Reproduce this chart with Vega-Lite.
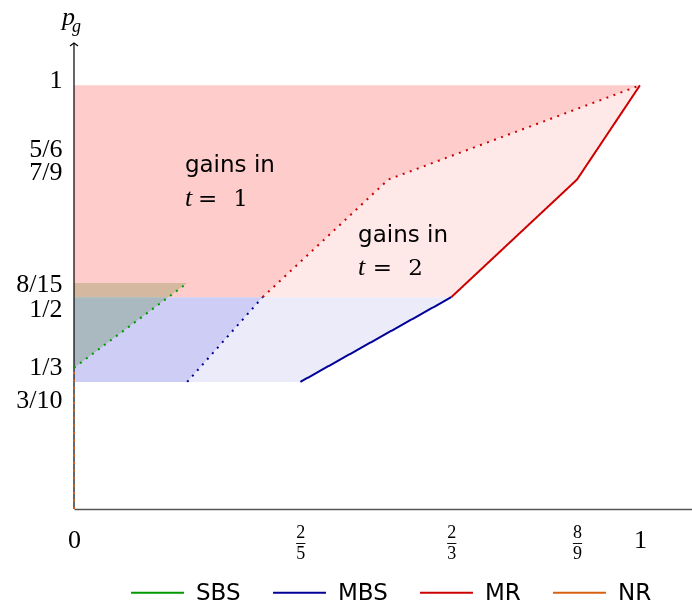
{
  "$schema": "https://vega.github.io/schema/vega-lite/v6.json",
  "width": 618,
  "height": 466,
  "autosize": "none",
  "padding": {"left": 74, "top": 43, "right": 0, "bottom": 95},
  "config": {"view": {"stroke": null}},
  "datasets": {
    "regions": [
      {"region": "R1", "p": 0.5, "lo": 0, "hi": 0.3333333},
      {"region": "R1", "p": 0.7777778, "lo": 0, "hi": 0.5555556},
      {"region": "R1", "p": 1, "lo": 0, "hi": 1},
      {"region": "R2", "p": 0.5, "lo": 0.3333333, "hi": 0.6666667},
      {"region": "R2", "p": 0.7777778, "lo": 0.5555556, "hi": 0.8888889},
      {"region": "R2", "p": 1, "lo": 1, "hi": 1},
      {"region": "B1", "p": 0.3, "lo": 0, "hi": 0.2},
      {"region": "B1", "p": 0.5, "lo": 0, "hi": 0.3333333},
      {"region": "B2", "p": 0.3, "lo": 0.2, "hi": 0.4},
      {"region": "B2", "p": 0.5, "lo": 0.3333333, "hi": 0.6666667},
      {"region": "G", "p": 0.3333333, "lo": 0, "hi": 0},
      {"region": "G", "p": 0.5333333, "lo": 0, "hi": 0.2}
    ],
    "bounds": [
      {"series": "SBS", "boundary": "t=1", "x": 0, "y": 0.3333333},
      {"series": "SBS", "boundary": "t=1", "x": 0.2, "y": 0.5333333},
      {"series": "MBS", "boundary": "t=1", "x": 0.2, "y": 0.3},
      {"series": "MBS", "boundary": "t=1", "x": 0.3333333, "y": 0.5},
      {"series": "MBS", "boundary": "t=2", "x": 0.4, "y": 0.3},
      {"series": "MBS", "boundary": "t=2", "x": 0.6666667, "y": 0.5},
      {"series": "MR", "boundary": "t=1", "x": 0.3333333, "y": 0.5},
      {"series": "MR", "boundary": "t=1", "x": 0.5555556, "y": 0.7777778},
      {"series": "MR", "boundary": "t=1", "x": 1, "y": 1},
      {"series": "MR", "boundary": "t=2", "x": 0.6666667, "y": 0.5},
      {"series": "MR", "boundary": "t=2", "x": 0.8888889, "y": 0.7777778},
      {"series": "MR", "boundary": "t=2", "x": 1, "y": 1},
      {"series": "NR", "boundary": "t=1", "x": 0, "y": 0},
      {"series": "NR", "boundary": "t=1", "x": 0, "y": 0.3333333}
    ],
    "notes": [
      {"part": "caption", "x": 0.196, "y": 0.796, "text": "gains in"},
      {"part": "var", "x": 0.196, "y": 0.716, "text": "t"},
      {"part": "rel", "x": 0.219, "y": 0.716, "text": "=\u2002\u20091"},
      {"part": "caption", "x": 0.502, "y": 0.631, "text": "gains in"},
      {"part": "var", "x": 0.502, "y": 0.552, "text": "t"},
      {"part": "rel", "x": 0.528, "y": 0.552, "text": "=\u2002\u20092"},
      {"part": "title", "x": -0.021, "y": 1.143, "text": "p"},
      {"part": "sub", "x": -0.0035, "y": 1.126, "text": "g"}
    ]
  },
  "layer": [
    {
      "data": {"name": "regions"},
      "transform": [{"filter": "datum.region != 'G'"}],
      "mark": {"type": "area", "orient": "horizontal"},
      "encoding": {
        "y": {"field": "p", "type": "quantitative", "title": null,
              "scale": {"domain": [0, 1.1], "nice": false, "zero": false},
              "axis": {"values": [1, 0.8333333, 0.7777778, 0.5333333, 0.5, 0.3333333, 0.3],
                       "domain": false, "ticks": false, "tickSize": 0, "grid": false,
                       "labelExpr": "datum.value > 0.99 ? '1' : datum.value > 0.8 ? '5/6' : datum.value > 0.7 ? '7/9' : datum.value > 0.52 ? '8/15' : datum.value > 0.4 ? '1/2' : datum.value > 0.32 ? '1/3' : '3/10'",
                       "labelOffset": {"expr": "datum.value > 0.99 ? -6 : datum.value > 0.8 ? -7 : datum.value > 0.7 ? -8 : datum.value > 0.52 ? 0 : datum.value > 0.4 ? 11 : datum.value > 0.32 ? -1 : 18"},
                       "labelFont": "Liberation Serif", "labelFontSize": 26, "labelColor": "black",
                       "labelPadding": 12, "labelBaseline": "middle", "labelOverlap": false, "labelFlush": false, "labelBound": false}},
        "x": {"field": "lo", "type": "quantitative", "title": null,
              "scale": {"domain": [0, 1.092], "nice": false, "zero": false},
              "axis": {"values": [0, 0.4, 0.6666667, 0.8888889, 1],
                       "domain": true, "domainColor": "#555555", "domainWidth": 1.6,
                       "ticks": false, "tickSize": 0, "grid": false,
                       "labelExpr": "datum.value < 0.01 ? '0' : datum.value > 0.99 ? '1' : datum.value > 0.8 ? ['8','\u2013','9'] : datum.value > 0.6 ? ['2','\u2013','3'] : ['2','\u2013','5']",
                       "labelFontSize": {"expr": "(datum.value < 0.01 || datum.value > 0.99) ? 26 : 18"},
                       "labelPadding": {"expr": "(datum.value < 0.01 || datum.value > 0.99) ? 30 : 23"},
                       "labelFont": "Liberation Serif", "labelColor": "black", "labelLineHeight": 10.5,
                       "labelBaseline": "middle", "labelOverlap": false, "labelFlush": false, "labelBound": false}},
        "x2": {"field": "hi"},
        "fill": {"field": "region", "type": "nominal", "legend": null,
                 "scale": {"domain": ["R1", "R2", "B1", "B2"], "range": ["#FFCCCC", "#FFE8E8", "#CDCDF5", "#EBEBFA"]}}
      }
    },
    {
      "data": {"name": "regions"},
      "transform": [{"filter": "datum.region == 'G'"}],
      "mark": {"type": "area", "orient": "horizontal", "color": "#D4E7C8", "blend": "multiply"},
      "encoding": {
        "y": {"field": "p", "type": "quantitative", "title": null},
        "x": {"field": "lo", "type": "quantitative", "title": null},
        "x2": {"field": "hi"}
      }
    },
    {
      "data": {"values": [{}]},
      "mark": {"type": "rule", "color": "black", "strokeWidth": 1.2},
      "encoding": {
        "x": {"datum": 0, "type": "quantitative"},
        "y": {"datum": 0, "type": "quantitative"},
        "y2": {"datum": 1.1}
      }
    },
    {
      "data": {"values": [{}]},
      "mark": {"type": "point", "shape": "M-1,0.75L0,0L1,0.75", "filled": false, "stroke": "black", "strokeWidth": 1.1, "size": 64, "opacity": 1},
      "encoding": {
        "x": {"datum": 0, "type": "quantitative"},
        "y": {"datum": 1.1, "type": "quantitative"}
      }
    },
    {
      "data": {"name": "bounds"},
      "mark": {"type": "line", "strokeWidth": 2},
      "encoding": {
        "x": {"field": "x", "type": "quantitative", "title": null},
        "y": {"field": "y", "type": "quantitative", "title": null},
        "stroke": {"field": "series", "type": "nominal",
                   "scale": {"domain": ["SBS", "MBS", "MR", "NR"], "range": ["#009900", "#000099", "#CC0000", "#D9600F"]},
                   "legend": {"orient": "none", "legendX": 56, "legendY": 522, "direction": "horizontal", "title": null,
                              "symbolType": "stroke", "symbolSize": 2800, "symbolStrokeWidth": 2, "symbolDash": [1, 0],
                              "labelFont": "DejaVu Sans", "labelFontSize": 23, "labelColor": "black", "labelOffset": 11,
                              "columnPadding": 28, "padding": 0}},
        "strokeDash": {"field": "boundary", "type": "nominal", "legend": null,
                       "scale": {"domain": ["t=1", "t=2"], "range": [[2, 5.5], [1, 0]]}}
      }
    },
    {
      "data": {"name": "notes"},
      "transform": [{"filter": "datum.part == 'caption'"}],
      "mark": {"type": "text", "align": "left", "baseline": "alphabetic", "font": "DejaVu Sans", "fontSize": 23, "color": "black"},
      "encoding": {
        "x": {"field": "x", "type": "quantitative"},
        "y": {"field": "y", "type": "quantitative"},
        "text": {"field": "text"}
      }
    },
    {
      "data": {"name": "notes"},
      "transform": [{"filter": "datum.part == 'var' || datum.part == 'title'"}],
      "mark": {"type": "text", "align": "left", "baseline": "alphabetic", "font": "Liberation Serif", "fontStyle": "italic", "fontSize": 26, "color": "black"},
      "encoding": {
        "x": {"field": "x", "type": "quantitative"},
        "y": {"field": "y", "type": "quantitative"},
        "text": {"field": "text"}
      }
    },
    {
      "data": {"name": "notes"},
      "transform": [{"filter": "datum.part == 'sub'"}],
      "mark": {"type": "text", "align": "left", "baseline": "alphabetic", "font": "Liberation Serif", "fontStyle": "italic", "fontSize": 18, "color": "black"},
      "encoding": {
        "x": {"field": "x", "type": "quantitative"},
        "y": {"field": "y", "type": "quantitative"},
        "text": {"field": "text"}
      }
    },
    {
      "data": {"name": "notes"},
      "transform": [{"filter": "datum.part == 'rel'"}],
      "mark": {"type": "text", "align": "left", "baseline": "alphabetic", "font": "DejaVu Serif", "fontSize": 23, "color": "black"},
      "encoding": {
        "x": {"field": "x", "type": "quantitative"},
        "y": {"field": "y", "type": "quantitative"},
        "text": {"field": "text"}
      }
    }
  ]
}
